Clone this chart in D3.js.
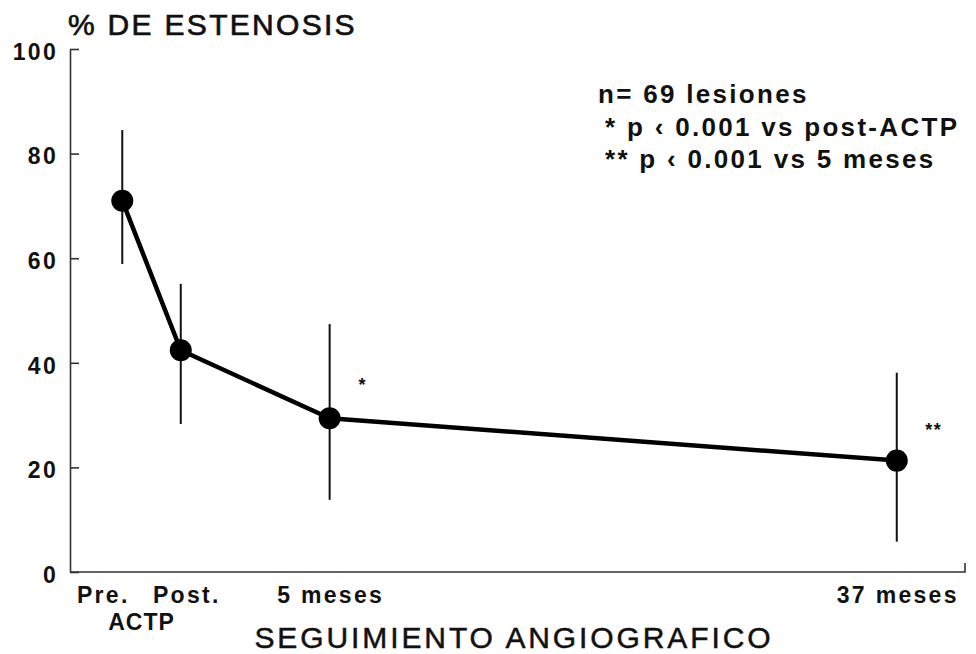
<!DOCTYPE html>
<html>
<head>
<meta charset="utf-8">
<script src="https://cdn.jsdelivr.net/npm/d3@7"></script>
<style>
  html, body { margin: 0; padding: 0; background: #fff; }
  svg { display: block; font-family: "Liberation Sans", Arial, Helvetica, sans-serif; }
</style>
</head>
<body>
<svg id="chart" width="976" height="654"></svg>
<script>
// ---- data ----
const categories = ["Pre.", "Post.", "5 meses", "37 meses"];
const xPositions = [-6.7, -3.4, 5, 37];          // position along the follow-up axis (months)
const meanValues = [71.0, 42.4, 29.4, 21.3];     // % estenosis
const upperValues = [84.5, 55.1, 47.4, 38.1];
const lowerValues = [58.9, 28.3, 13.8, 5.8];
const significance = ["", "", "*", "**"];
const yTicks = [0, 20, 40, 60, 80, 100];
const notes = ["n= 69 lesiones", "* p \u2039 0.001 vs post-ACTP", "** p \u2039 0.001 vs 5 meses"];

const svg = d3.select("#chart");
const margin = { left: 70, right: 11, top: 49, bottom: 82 };
const W = 976, H = 654;

const x = d3.scaleLinear().domain([-9.65, 40.85]).range([margin.left, W - margin.right]);
const y = d3.scaleLinear().domain([0, 100]).range([H - margin.bottom, margin.top]);

const axisColor = "#333";
const ink = "#111";

// Y axis
const yAxis = d3.axisLeft(y).tickValues(yTicks).tickSizeInner(-9).tickSizeOuter(0).tickPadding(12);
const gy = svg.append("g").attr("transform", `translate(${margin.left},0)`).call(yAxis);
gy.select(".domain").attr("stroke", axisColor).attr("stroke-width", 1.6);
gy.selectAll(".tick line").attr("stroke", axisColor).attr("stroke-width", 1.6);
gy.selectAll(".tick text")
  .attr("fill", ink).attr("font-size", 23).attr("font-weight", "bold")
  .attr("letter-spacing", 2.3).attr("dy", "0.45em").attr("font-family", "'Liberation Sans', Arial, sans-serif");

// X axis baseline with small end tick
const x0 = x.range()[0], x1 = x.range()[1];
svg.append("path")
  .attr("d", `M${x0},${y(0)}H${x1}V${y(0) - 9}`)
  .attr("fill", "none").attr("stroke", axisColor).attr("stroke-width", 1.6);

// Error bars
const data = categories.map((c, i) => ({
  c, xp: xPositions[i], m: meanValues[i], hi: upperValues[i], lo: lowerValues[i], s: significance[i]
}));

svg.append("g").selectAll("line").data(data).join("line")
  .attr("x1", d => x(d.xp)).attr("x2", d => x(d.xp))
  .attr("y1", d => y(d.hi)).attr("y2", d => y(d.lo))
  .attr("stroke", ink).attr("stroke-width", 2);

// Mean line
const line = d3.line().x(d => x(d.xp)).y(d => y(d.m));
svg.append("path").datum(data).attr("d", line)
  .attr("fill", "none").attr("stroke", "#000").attr("stroke-width", 4.5)
  .attr("stroke-linejoin", "round");

// Markers
svg.append("g").selectAll("circle").data(data).join("circle")
  .attr("cx", d => x(d.xp)).attr("cy", d => y(d.m)).attr("r", 11)
  .attr("fill", "#000");

// Significance marks
svg.append("g").selectAll("text").data(data.filter(d => d.s)).join("text")
  .attr("x", d => x(d.xp) + (d.s.length === 1 ? 33 : 37))
  .attr("y", d => y(d.m) - (d.s.length === 1 ? 27 : 25))
  .attr("text-anchor", "middle")
  .attr("font-size", 18).attr("font-weight", "bold").attr("fill", ink)
  .attr("letter-spacing", 1.5)
  .text(d => d.s);

// X category labels
const labelOffsets = [-19, 6, 1, 1];
svg.append("g").selectAll("text").data(data).join("text")
  .attr("x", (d, i) => x(d.xp) + labelOffsets[i])
  .attr("y", 603)
  .attr("text-anchor", "middle")
  .attr("font-size", 23).attr("font-weight", "bold").attr("fill", ink)
  .attr("letter-spacing", 2.3)
  .text(d => d.c);
svg.append("text")
  .attr("x", (x(xPositions[0]) + x(xPositions[1])) / 2 - 10)
  .attr("y", 630)
  .attr("text-anchor", "middle")
  .attr("font-size", 23).attr("font-weight", "bold").attr("fill", ink)
  .attr("letter-spacing", 1)
  .text("ACTP");

// Axis titles
svg.append("text")
  .attr("x", 68).attr("y", 35)
  .attr("font-size", 30).attr("fill", ink).attr("stroke", ink).attr("stroke-width", 0.7)
  .attr("letter-spacing", 2.3)
  .text("% DE ESTENOSIS");
svg.append("text")
  .attr("x", 514).attr("y", 648)
  .attr("text-anchor", "middle")
  .attr("font-size", 30).attr("fill", ink).attr("stroke", ink).attr("stroke-width", 0.5)
  .attr("letter-spacing", 2.9)
  .text("SEGUIMIENTO ANGIOGRAFICO");

// Notes
svg.append("g").selectAll("text").data(notes).join("text")
  .attr("x", (d, i) => i === 0 ? 598 : 605)
  .attr("y", (d, i) => 103 + i * 32.5)
  .attr("font-size", 26).attr("font-weight", "bold").attr("fill", ink)
  .attr("letter-spacing", 2.3)
  .text(d => d);
</script>
</body>
</html>
